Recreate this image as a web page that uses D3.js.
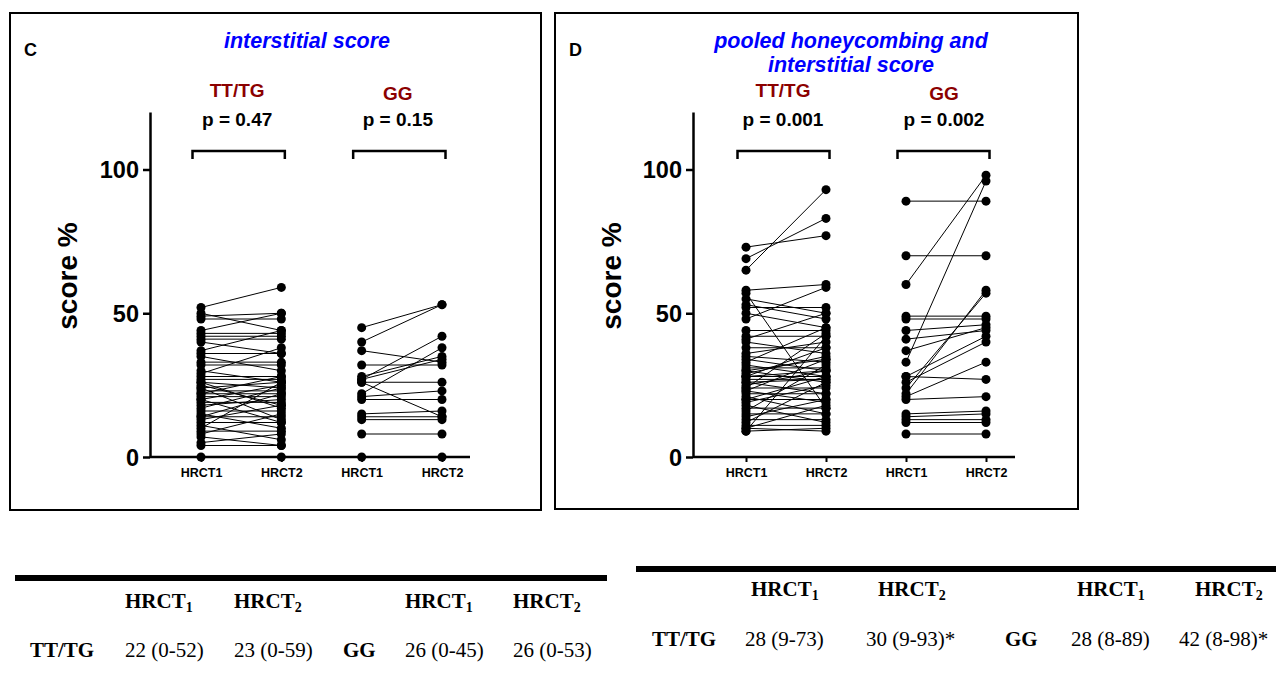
<!DOCTYPE html>
<html><head><meta charset="utf-8">
<script src="https://cdn.jsdelivr.net/npm/d3@7"></script>
<style>
body{margin:0;background:#fff;}
svg{display:block;}
</style></head>
<body>
<svg id="chart" width="1276" height="681"></svg>
<script>
// ---------- DATA ----------
const categories = ["HRCT1", "HRCT2"];
const groups = ["TT/TG", "GG"];
const yTicks = [0, 50, 100];

// Panel C: interstitial score (HRCT1, HRCT2 pairs)
const cTTTG_h1 = [52,50,49,48,44,43,42,41,40,37,36,35,33,32,30,29,28,27,26,26,25,24,24,23,22,22,21,20,20,19,18,17,16,15,14,14,13,12,11,10,9,8,7,5,4,0];
const cTTTG_h2 = [59,44,50,48,50,43,42,41,36,44,36,30,33,32,26,38,28,27,24,17,18,26,13,23,22,28,21,25,12,19,20,24,16,10,14,22,18,12,6,26,9,15,4,8,4,0];
const cGG_h1 = [45,40,37,32,28,27,27,26,26,22,21,20,15,14,13,8,0];
const cGG_h2 = [53,53,33,32,35,42,34,26,14,38,23,20,16,14,13,8,0];

// Panel D: pooled honeycombing and interstitial score
const dTTTG_h1 = [73,69,65,58,57,55,53,52,50,48,44,42,41,40,38,36,35,34,33,32,31,30,30,29,28,28,28,27,26,26,25,24,24,23,23,22,21,20,20,19,18,17,16,15,14,13,12,11,10,10,9,9];
const dTTTG_h2 = [77,83,93,60,17,50,48,52,45,59,44,42,50,36,38,40,33,30,45,28,31,26,34,35,28,38,30,27,22,27,30,24,43,34,19,22,15,28,20,25,12,17,32,15,20,13,26,11,9,18,10,42];
const dGG_h1 = [89,70,60,49,48,44,41,37,33,28,28,26,24,22,21,20,15,14,13,12,8];
const dGG_h2 = [89,70,98,49,48,46,44,45,96,42,27,40,57,58,33,21,16,15,13,12,8];

const pValuesC = ["p = 0.47", "p = 0.15"];
const pValuesD = ["p = 0.001", "p = 0.002"];

const tableHeader = ["HRCT", "HRCT", "", "HRCT", "HRCT"];
const tableSubs = ["1", "2", "", "1", "2"];
const tableC = ["TT/TG", "22 (0-52)", "23 (0-59)", "GG", "26 (0-45)", "26 (0-53)"];
const tableD = ["TT/TG", "28 (9-73)", "30 (9-93)*", "GG", "28 (8-89)", "42 (8-98)*"];

// ---------- DRAW ----------
const svg = d3.select("#chart");
const SANS = "'Liberation Sans', Arial, sans-serif";
const SERIF = "'Liberation Serif', 'Times New Roman', serif";
const DARKRED = "#8b0000";
const BLUE = "#0000ff";

function drawPanel(cfg) {
  const g = svg.append("g");
  g.append("rect").attr("x", cfg.box[0]).attr("y", cfg.box[1])
    .attr("width", cfg.box[2]).attr("height", cfg.box[3])
    .attr("fill", "none").attr("stroke", "#000").attr("stroke-width", 2);

  g.append("text").attr("x", cfg.letterX).attr("y", 56).text(cfg.letter)
    .attr("font-family", SANS).attr("font-weight", "bold").attr("font-size", 18);

  cfg.title.forEach((t, i) => {
    g.append("text").attr("x", cfg.titleX).attr("y", 48 + i * 24).text(t)
      .attr("text-anchor", "middle").attr("font-family", SANS)
      .attr("font-weight", "bold").attr("font-style", "italic")
      .attr("font-size", 21.5).attr("fill", BLUE);
  });

  const y = d3.scaleLinear().domain([0, 120]).range([457, 112]);
  const keys = [];
  groups.forEach(gr => categories.forEach(c => keys.push(gr + "|" + c)));
  const x = d3.scalePoint().domain(keys).range(cfg.xRange);

  // y axis
  const ya = g.append("g").attr("transform", `translate(${cfg.axisX},0)`)
    .call(d3.axisLeft(y).tickValues(yTicks).tickSize(7).tickSizeOuter(0));
  ya.select(".domain").attr("stroke-width", 2.5);
  ya.selectAll(".tick line").attr("stroke-width", 2.5);
  ya.selectAll(".tick text").attr("font-family", SANS).attr("font-weight", "bold")
    .attr("font-size", 23.5).attr("fill", "#000").attr("dx", "-1").attr("dy", "0.35em");

  // x axis
  const xa = g.append("g").attr("transform", "translate(0,457)")
    .call(d3.axisBottom(x).tickSize(5).tickFormat(d => d.split("|")[1]));
  xa.select(".domain").remove();
  xa.append("line").attr("x1", cfg.axisX).attr("x2", cfg.axisEnd)
    .attr("y1", 0).attr("y2", 0).attr("stroke", "#000").attr("stroke-width", 2.5);
  xa.selectAll(".tick line").attr("stroke-width", 2);
  xa.selectAll(".tick text").attr("font-family", SANS).attr("font-weight", "bold")
    .attr("font-size", 12.5).attr("fill", "#000").attr("dy", "0.95em");

  // y label
  g.append("text").attr("transform", `translate(${cfg.labelX},276) rotate(-90)`)
    .attr("text-anchor", "middle").attr("font-family", SANS).attr("font-weight", "bold")
    .attr("font-size", 28).text("score %");

  // group labels, p values, brackets
  groups.forEach((gr, i) => {
    const x1 = x(gr + "|HRCT1"), x2 = x(gr + "|HRCT2");
    const cx = (x1 + x2) / 2 + cfg.labelShift[i];
    g.append("text").attr("x", cx).attr("y", i === 0 ? 97 : 100).text(gr)
      .attr("text-anchor", "middle").attr("font-family", SANS).attr("font-weight", "bold")
      .attr("font-size", 19).attr("fill", DARKRED);
    g.append("text").attr("x", cx).attr("y", 126).text(cfg.p[i])
      .attr("text-anchor", "middle").attr("font-family", SANS).attr("font-weight", "bold")
      .attr("font-size", 19).attr("fill", "#000");
    const bx1 = x1 - 8.5, bx2 = x2 + 3.5;
    g.append("path").attr("d", `M${bx1},159V151H${bx2}V159`)
      .attr("fill", "none").attr("stroke", "#000").attr("stroke-width", 2.5);
  });

  // data
  cfg.data.forEach(([gr, h1, h2]) => {
    const x1 = x(gr + "|HRCT1"), x2 = x(gr + "|HRCT2");
    const pairs = h1.map((v, i) => [v, h2[i]]);
    g.append("g").selectAll("line").data(pairs).join("line")
      .attr("x1", x1).attr("x2", x2)
      .attr("y1", d => y(d[0])).attr("y2", d => y(d[1]))
      .attr("stroke", "#000").attr("stroke-width", 1);
    g.append("g").selectAll("circle").data(h1).join("circle")
      .attr("cx", x1).attr("cy", d => y(d)).attr("r", 4.5).attr("fill", "#000");
    g.append("g").selectAll("circle").data(h2).join("circle")
      .attr("cx", x2).attr("cy", d => y(d)).attr("r", 4.5).attr("fill", "#000");
  });
}

drawPanel({
  box: [10, 13, 531, 497], letter: "C", letterX: 24,
  title: ["interstitial score"], titleX: 307,
  axisX: 150, axisEnd: 470, xRange: [201, 442], labelX: 77,
  labelShift: [-4, -4], p: pValuesC,
  data: [["TT/TG", cTTTG_h1, cTTTG_h2], ["GG", cGG_h1, cGG_h2]]
});
drawPanel({
  box: [555, 13, 523, 496], letter: "D", letterX: 569,
  title: ["pooled honeycombing and", "interstitial score"], titleX: 851,
  axisX: 693, axisEnd: 1015, xRange: [746, 986], labelX: 621,
  labelShift: [-3, -2], p: pValuesD,
  data: [["TT/TG", dTTTG_h1, dTTTG_h2], ["GG", dGG_h1, dGG_h2]]
});

// ---------- TABLES ----------
function drawTable(cfg) {
  const g = svg.append("g");
  g.append("rect").attr("x", cfg.x0).attr("y", cfg.lineY).attr("width", cfg.x1 - cfg.x0)
    .attr("height", 6).attr("fill", "#000");
  tableHeader.forEach((h, i) => {
    if (!h) return;
    const t = g.append("text").attr("x", cfg.headX[i]).attr("y", cfg.headY)
      .attr("font-family", SERIF).attr("font-weight", "bold").attr("font-size", 21);
    t.append("tspan").text(h);
    t.append("tspan").text(tableSubs[i]).attr("font-size", 14).attr("dy", 4);
  });
  cfg.row.forEach((v, i) => {
    g.append("text").attr("x", cfg.rowX[i]).attr("y", cfg.rowY).text(v)
      .attr("font-family", SERIF).attr("font-size", 21)
      .attr("font-weight", (i === 0 || i === 3) ? "bold" : "normal");
  });
}
drawTable({
  x0: 15, x1: 607, lineY: 575, headY: 608, rowY: 657,
  headX: [125, 234, 0, 405, 513], rowX: [30, 125, 234, 343, 405, 513], row: tableC
});
drawTable({
  x0: 636, x1: 1276, lineY: 566, headY: 596, rowY: 646,
  headX: [751, 878, 0, 1077, 1195], rowX: [652, 745, 866, 1005, 1071, 1179], row: tableD
});
</script>
</body></html>
